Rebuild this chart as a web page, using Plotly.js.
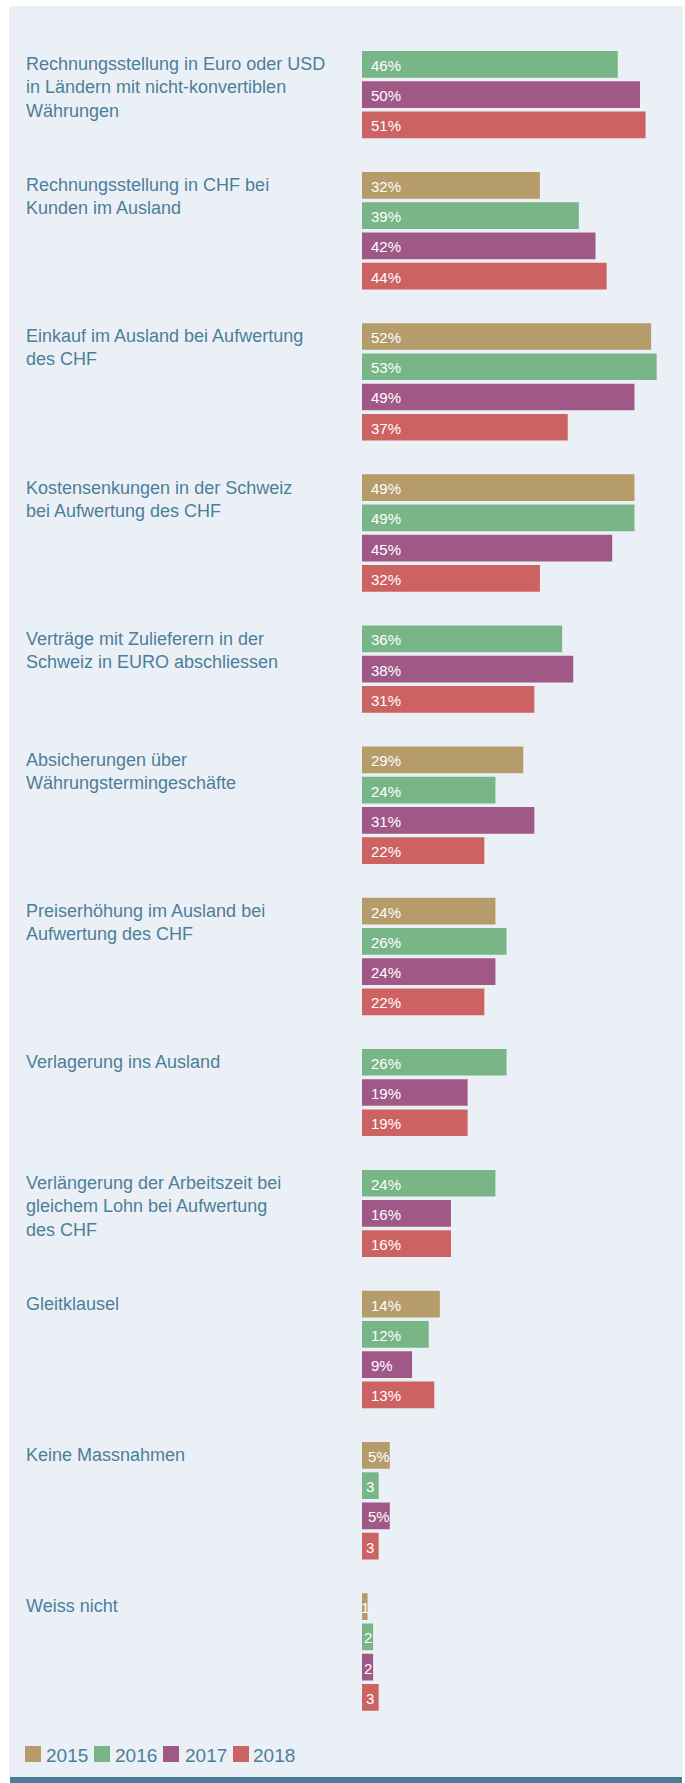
<!DOCTYPE html>
<html><head><meta charset="utf-8">
<script src="https://cdn.plot.ly/plotly-3.0.1.min.js"></script>
<style>html,body{margin:0;padding:0;background:#fff}</style>
</head><body><div id="chart" style="width:685px;height:1783px"></div>
<script>
// ---- data ----
const categories = [
  'Rechnungsstellung in Euro oder USD<br>in Ländern mit nicht-konvertiblen<br>Währungen',
  'Rechnungsstellung in CHF bei<br>Kunden im Ausland',
  'Einkauf im Ausland bei Aufwertung<br>des CHF',
  'Kostensenkungen in der Schweiz<br>bei Aufwertung des CHF',
  'Verträge mit Zulieferern in der<br>Schweiz in EURO abschliessen',
  'Absicherungen über<br>Währungstermingeschäfte',
  'Preiserhöhung im Ausland bei<br>Aufwertung des CHF',
  'Verlagerung ins Ausland',
  'Verlängerung der Arbeitszeit bei<br>gleichem Lohn bei Aufwertung<br>des CHF',
  'Gleitklausel',
  'Keine Massnahmen',
  'Weiss nicht'
];
const years = ['2015', '2016', '2017', '2018'];
const values2015 = [null, 32, 52, 49, null, 29, 24, null, null, 14, 5, 1];
const values2016 = [46, 39, 53, 49, 36, 24, 26, 26, 24, 12, 3, 2];
const values2017 = [50, 42, 49, 45, 38, 31, 24, 19, 16, 9, 5, 2];
const values2018 = [51, 44, 37, 32, 31, 22, 22, 19, 16, 13, 3, 3];
const text2015 = [null, '32%', '52%', '49%', null, '29%', '24%', null, null, '14%', '5%', '1'];
const text2016 = ['46%', '39%', '53%', '49%', '36%', '24%', '26%', '26%', '24%', '12%', '3', '2'];
const text2017 = ['50%', '42%', '49%', '45%', '38%', '31%', '24%', '19%', '16%', '9%', '5%', '2'];
const text2018 = ['51%', '44%', '37%', '32%', '31%', '22%', '22%', '19%', '16%', '13%', '3', '3'];
const colors = ['#b59c6a', '#78b687', '#a05886', '#cc6262'];

// ---- layout helpers ----
const W = 685, H = 1783;
const FONT = 'Liberation Sans, Arial, sans-serif';
const LABEL_COLOR = '#4b7f99';
const valuesByYear = [values2015, values2016, values2017, values2018];
const textByYear = [text2015, text2016, text2017, text2018];

// slot positions: each present bar takes a slot, one empty slot between groups
let slot = 0;
const groupStart = [];
const yByYear = years.map(() => []);
categories.forEach((c, i) => {
  let first = null;
  valuesByYear.forEach((vals, k) => {
    if (vals[i] !== null) {
      if (first === null) first = slot;
      yByYear[k][i] = slot;
      slot++;
    } else {
      yByYear[k][i] = null;
    }
  });
  groupStart.push(first);
  slot++;
});
const N = slot - 1;

const PITCH = 30.24, FIRST_CENTER = 64.35;
const topPx = FIRST_CENTER - PITCH / 2;
const botPx = FIRST_CENTER + (N - 1) * PITCH + PITCH / 2;
const X0 = 362, PX_PER = 5.56, XMAX = 57;

const px = v => v / W;
const py = v => 1 - v / H;

const traces = years.map((yr, k) => ({
  type: 'bar',
  orientation: 'h',
  name: yr,
  x: valuesByYear[k],
  y: yByYear[k],
  width: 0.883,
  marker: {color: colors[k], line: {width: 0}},
  showlegend: false,
  hoverinfo: 'skip'
}));

const annotations = [];
// bar value labels
years.forEach((yr, k) => {
  valuesByYear[k].forEach((v, i) => {
    if (v === null) return;
    const t = textByYear[k][i];
    const hasPct = t.indexOf('%') >= 0;
    annotations.push({
      xref: 'x', yref: 'y',
      x: hasPct ? 0 : v / 2,
      y: yByYear[k][i],
      xanchor: hasPct ? 'left' : 'center',
      yanchor: 'middle',
      xshift: hasPct ? (v < 8 ? 4 : 7) : 0,
      yshift: -1,
      text: t, showarrow: false,
      font: {family: FONT, size: 15, color: '#ffffff'}
    });
  });
});
// category labels
categories.forEach((c, i) => {
  annotations.push({
    xref: 'paper', yref: 'y',
    x: px(24), y: groupStart[i] - 0.5,
    xanchor: 'left', yanchor: 'top', align: 'left',
    yshift: -3,
    text: c, showarrow: false,
    font: {family: FONT, size: 18, color: LABEL_COLOR}
  });
});
// legend
const legendSq = [25, 94, 163, 233];
const legendTx = [44, 113, 183, 251];
const shapes = [
  {type: 'rect', xref: 'paper', yref: 'paper', x0: px(10), x1: px(682), y0: py(1777), y1: py(7),
   fillcolor: '#ebf0f7', line: {color: '#e3e8ef', width: 1}, layer: 'below'},
  {type: 'rect', xref: 'paper', yref: 'paper', x0: px(10), x1: px(682), y0: py(1783), y1: py(1777),
   fillcolor: '#497d97', line: {width: 0}, layer: 'below'}
];
years.forEach((yr, k) => {
  shapes.push({type: 'rect', xref: 'paper', yref: 'paper',
    x0: px(legendSq[k]), x1: px(legendSq[k] + 16), y0: py(1762), y1: py(1746),
    fillcolor: colors[k], line: {width: 0}});
  annotations.push({xref: 'paper', yref: 'paper', x: px(legendTx[k]), y: py(1755),
    xanchor: 'left', yanchor: 'middle', text: yr, showarrow: false,
    font: {family: FONT, size: 19, color: LABEL_COLOR}});
});

const layout = {
  width: W, height: H,
  margin: {l: 0, r: 0, t: 0, b: 0},
  paper_bgcolor: '#ffffff', plot_bgcolor: 'rgba(0,0,0,0)',
  barmode: 'overlay',
  showlegend: false,
  hovermode: false,
  xaxis: {visible: false, range: [0, XMAX], domain: [px(X0), px(X0 + XMAX * PX_PER)], fixedrange: true},
  yaxis: {visible: false, range: [N - 0.5, -0.5], domain: [py(botPx), py(topPx)], fixedrange: true},
  shapes: shapes,
  annotations: annotations
};

Plotly.newPlot('chart', traces, layout, {displayModeBar: false, staticPlot: true});
</script>
</body></html>
